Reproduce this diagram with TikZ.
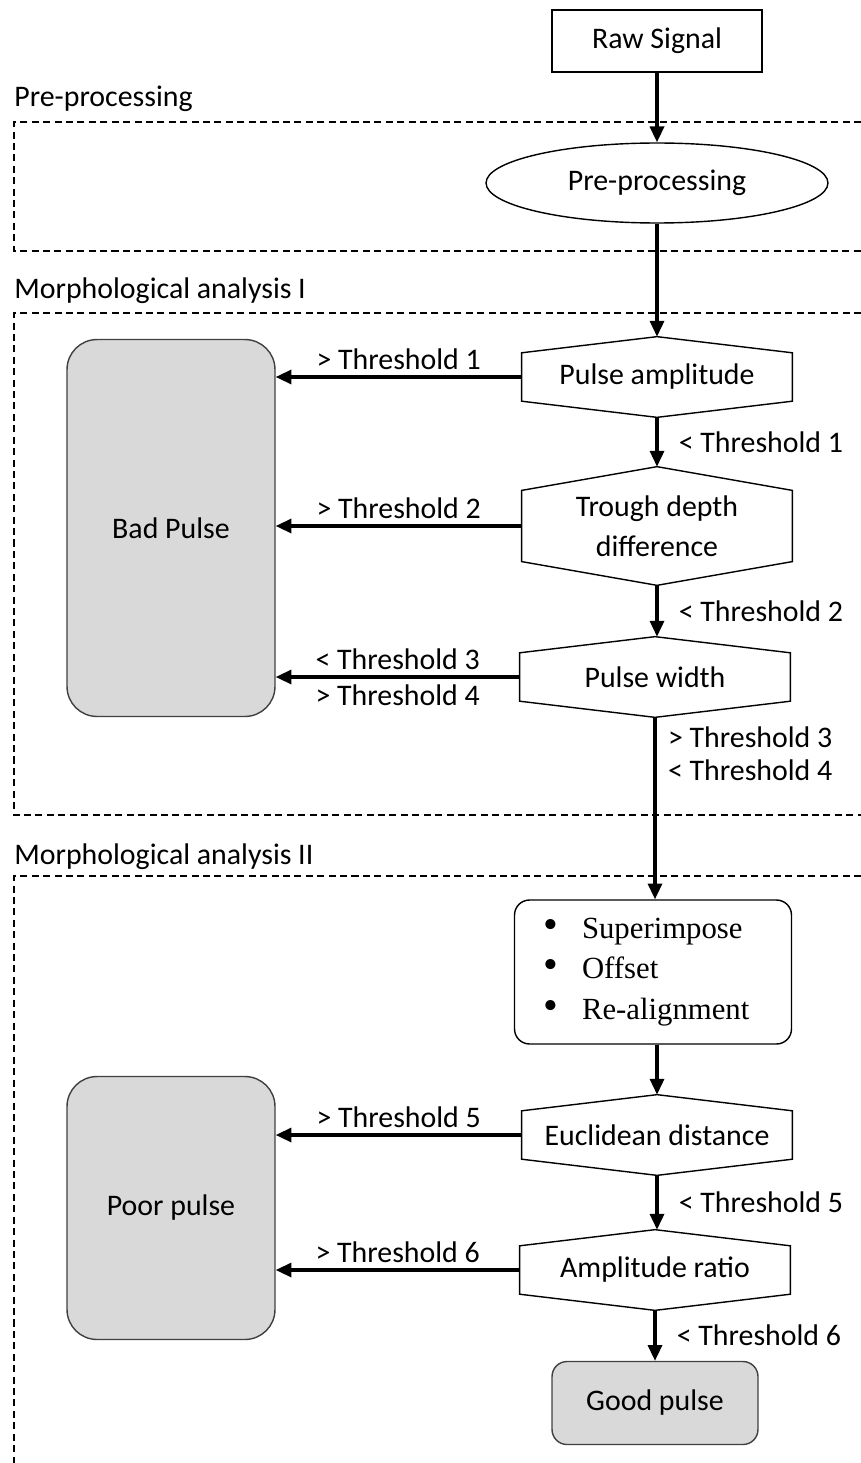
\documentclass[tikz,border=0pt]{standalone}
\usepackage{fontspec}
\setmainfont{Carlito}
\newfontfamily\listfont{Liberation Serif}
\usetikzlibrary{shapes.geometric, arrows.meta, positioning, calc}
\definecolor{pulsegray}{HTML}{D9D9D9}
\newcommand{\stepitem}{\makebox[0.78cm][l]{\fontsize{24}{23}\selectfont\textbullet}}

\begin{document}
\begin{tikzpicture}[
    x=0.02cm, y=-0.02cm,
    font=\fontsize{17}{19}\selectfont,
    box/.style={rectangle, draw=black, line width=0.8pt, minimum width=4.2cm, minimum height=1.24cm},
    process/.style={ellipse, draw=black, line width=0.8pt, minimum width=6.84cm, minimum height=1.6cm, inner sep=0pt},
    check/.style={rectangle, align=center, minimum width=5.4cm, minimum height=1.6cm, inner sep=0pt},
    outcome/.style={rectangle, draw=black!75, line width=0.8pt, fill=pulsegray, rounded corners=0.6cm, minimum width=4.16cm},
    steps/.style={rectangle, draw=black, line width=0.8pt, rounded corners=0.3cm, minimum width=5.54cm, minimum height=2.88cm, text width=4.4cm, align=left, font=\listfont\fontsize{17.5}{23}\selectfont},
    section/.style={dash pattern=on 4pt off 2.5pt, line width=0.6pt},
    title/.style={anchor=west, inner sep=0pt},
    arrow/.style={line width=1.8pt, -{Triangle[length=9pt,width=8pt]}},
    thr/.style={inner sep=3.5pt}
]
\useasboundingbox (0,0) rectangle (861,1463);

% Section frames
\draw[section] (861,122) -- (14,122) -- (14,251) -- (861,251);
\draw[section] (861,313) -- (14,313) -- (14,815) -- (861,815);
\draw[section] (861,876) -- (14,876) -- (14,1463);

\node[title] (pretitle) at (14,99) {Pre-processing};
\node[title] (morphonetitle) at (14,291) {Morphological analysis I};
\node[title] (morphtwotitle) at (14,857) {Morphological analysis II};

% Main flow
\node[box] (raw) at (657,41) {Raw Signal};
\node[process] (prep) at (657,183) {Pre-processing};
\node[check] (amp) at (657,377) {Pulse amplitude};
\node[check, minimum height=2.36cm, font=\fontsize{17}{22.5}\selectfont] (trough) at (657,526) {Trough depth\\difference};
\node[check] (width) at (655,677) {Pulse width};
\node[steps] (align) at (653,972) {\stepitem Superimpose\\\stepitem Offset\\\stepitem Re-alignment};
\node[check] (eucl) at (657,1135) {Euclidean distance};
\node[check] (ratio) at (655,1270) {Amplitude ratio};
\node[outcome, rounded corners=0.3cm, minimum width=4.12cm, minimum height=1.66cm] (good) at (655,1403) {Good pulse};

% Rejected pulses
\node[outcome, minimum height=7.54cm] (bad) at (171,528) {Bad Pulse};
\node[outcome, minimum height=5.26cm] (poor) at (171,1208) {Poor pulse};

% Decision outlines
\foreach \n in {amp,trough,width,eucl,ratio}
  \draw[line width=0.8pt] (\n.north) -- ($(\n.north east)!0.2!(\n.south east)$) -- ($(\n.south east)!0.2!(\n.north east)$) -- (\n.south) -- ($(\n.south west)!0.2!(\n.north west)$) -- ($(\n.north west)!0.2!(\n.south west)$) -- cycle;

% Connections
\draw[arrow] (raw) -- (prep);
\draw[arrow] (prep) -- (amp.north);
\draw[arrow] (amp.south) -- node[thr, right=8pt] {< Threshold 1} (trough.north);
\draw[arrow] (trough.south) -- node[thr, right=8pt] {< Threshold 2} (width.north -| trough.south);
\draw[arrow] (width.south) -- node[thr, right=3pt, pos=0.2, align=left] {> Threshold 3\\< Threshold 4} (width.south |- align.north);
\draw[arrow] (align.south -| eucl.north) -- (eucl.north);
\draw[arrow] (eucl.south) -- node[thr, right=8pt] {< Threshold 5} (ratio.north -| eucl.south);
\draw[arrow] (ratio.south) -- node[thr, right=8pt] {< Threshold 6} (good);

\draw[arrow] (amp.west) -- node[thr, above] {> Threshold 1} (amp.west -| bad.east);
\draw[arrow] (trough.west) -- node[thr, above] {> Threshold 2} (trough.west -| bad.east);
\draw[arrow] (width.west) -- node[thr, above] {< Threshold 3} node[thr, below] {> Threshold 4} (width.west -| bad.east);
\draw[arrow] (eucl.west) -- node[thr, above] {> Threshold 5} (eucl.west -| poor.east);
\draw[arrow] (ratio.west) -- node[thr, above] {> Threshold 6} (ratio.west -| poor.east);

\end{tikzpicture}
\end{document}
